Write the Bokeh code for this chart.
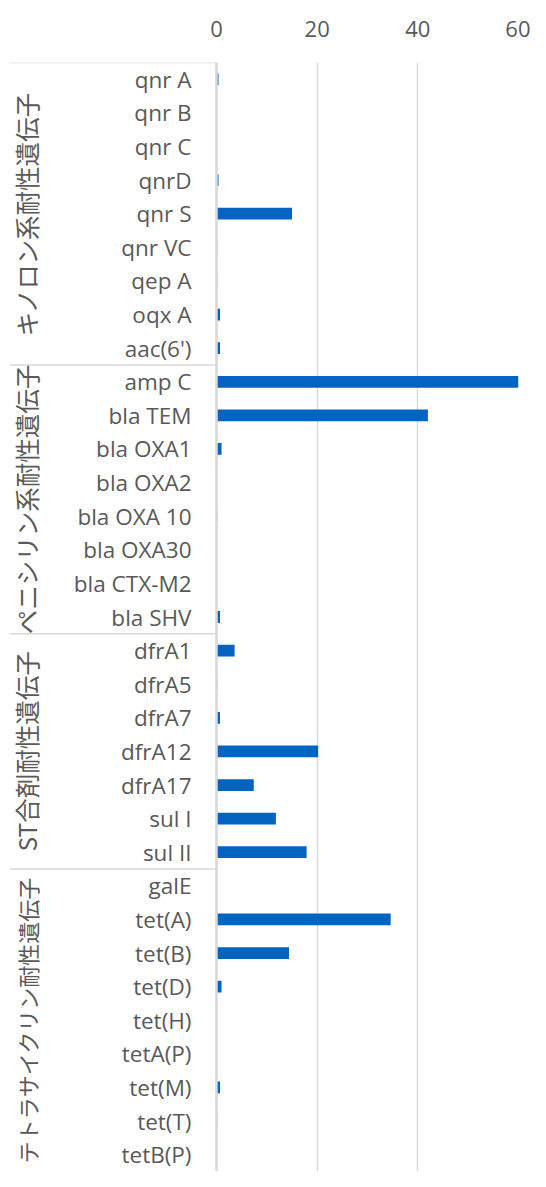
import math
from bokeh.plotting import figure
from bokeh.models import Range1d, FixedTicker, ColumnDataSource
from bokeh.core.properties import value
from bokeh.embed import file_html
from bokeh.resources import INLINE

# ---- data ----
group_names = ["キノロン系耐性遺伝子", "ペニシリン系耐性遺伝子", "ST合剤耐性遺伝子", "テトラサイクリン耐性遺伝子"]
quinolone_genes = ["qnr A", "qnr B", "qnr C", "qnrD", "qnr S", "qnr VC", "qep A", "oqx A", "aac(6')"]
quinolone_vals = [0.4, 0, 0, 0.4, 15.0, 0.15, 0.15, 0.7, 0.7]
penicillin_genes = ["amp C", "bla TEM", "bla OXA1", "bla OXA2", "bla OXA 10", "bla OXA30", "bla CTX-M2", "bla SHV"]
penicillin_vals = [60.0, 42.0, 1.0, 0, 0.15, 0, 0, 0.7]
st_genes = ["dfrA1", "dfrA5", "dfrA7", "dfrA12", "dfrA17", "sul I", "sul II"]
st_vals = [3.6, 0.15, 0.7, 20.2, 7.4, 11.8, 17.9]
tet_genes = ["galE", "tet(A)", "tet(B)", "tet(D)", "tet(H)", "tetA(P)", "tet(M)", "tet(T)", "tetB(P)"]
tet_vals = [0, 34.6, 14.4, 1.0, 0, 0, 0.7, 0.15, 0]
x_ticks = [0, 20, 40, 60]

gene_groups = [quinolone_genes, penicillin_genes, st_genes, tet_genes]
val_groups = [quinolone_vals, penicillin_vals, st_vals, tet_vals]

genes = [g for grp in gene_groups for g in grp]
vals = [v for grp in val_groups for v in grp]
n = len(genes)
pos = [i + 0.5 for i in range(n)]

# group boundaries and centers
bounds = []
centers = []
start = 0
for grp in gene_groups:
    bounds.append(start)
    centers.append(start + len(grp) / 2)
    start += len(grp)

# ---- layout ----
W, H = 530, 1171
border_r = 12
border_t = 62
frame_w = W - border_r
zero_px = 216
xmax = 60
scale = (frame_w - zero_px) / xmax
xmin = -zero_px / scale

GREY = "#595959"
LINE = "#d9d9d9"
BLUE = "#0563C1"

p = figure(width=W, height=H, output_backend="svg", toolbar_location=None,
           x_range=Range1d(xmin, xmax), y_range=Range1d(n, 0),
           x_axis_location="above", min_border_left=0, min_border_right=border_r,
           min_border_top=border_t, min_border_bottom=0)
p.outline_line_color = None
p.background_fill_color = "white"
p.border_fill_color = "white"
p.yaxis.visible = False
p.ygrid.visible = False

xa = p.xaxis[0]
xa.ticker = FixedTicker(ticks=x_ticks)
xa.axis_line_color = None
xa.major_tick_line_color = None
xa.minor_tick_line_color = None
xa.major_label_standoff = 20
xa.major_label_text_font = "Open Sans"
xa.major_label_text_font_size = "22px"
xa.major_label_text_color = GREY
p.xgrid.grid_line_color = LINE
p.xgrid.grid_line_width = 1.5

# bars
src = ColumnDataSource(dict(y=pos, v=vals, g=genes))
p.hbar(y="y", left=0, right="v", height=0.35, source=src, fill_color=BLUE, line_color=None)

# axis line at 0 and group separators
p.segment(x0=[0], y0=[0], x1=[0], y1=[n], line_color=LINE, line_width=2.5)
sep_x0 = xmin + 9 / scale
p.segment(x0=[sep_x0] * len(bounds), y0=bounds, x1=[0] * len(bounds), y1=bounds,
          line_color=LINE, line_width=1.5)

# category labels
p.text(x=0, y="y", text="g", source=src, x_offset=-25, text_align="right",
       text_baseline="middle", text_font=value("Open Sans"), text_font_size="22.5px",
       text_color=GREY)

# group labels (rotated)
gsrc = ColumnDataSource(dict(y=centers, t=group_names,
                             fs=["24.5px", "24.5px", "24.5px", "22px"]))
p.text(x=0, y="y", text="t", source=gsrc, x_offset=-(zero_px - 26), angle=math.pi / 2,
       text_align="center", text_baseline="middle",
       text_font=value("Noto Sans CJK JP"), text_font_size="fs", text_color=GREY)

open("out.html", "w").write(file_html(p, INLINE))
